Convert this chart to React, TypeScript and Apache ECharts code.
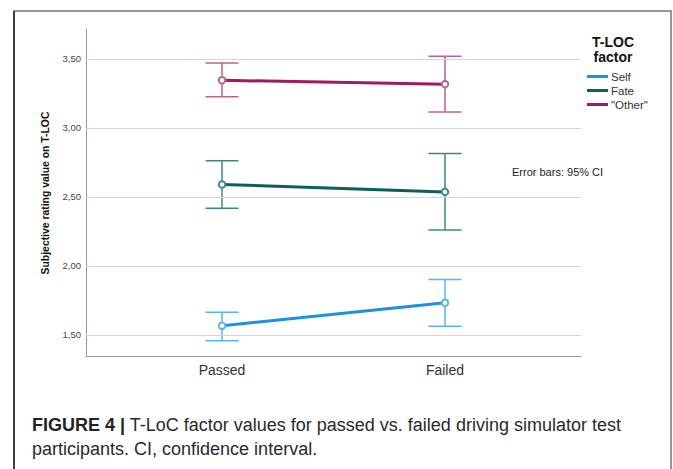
import { useEffect, useRef } from 'react';
import * as echarts from 'echarts';

const categories = ['Passed', 'Failed'];
const seriesNames = ['Self', 'Fate', '"Other"'];
const selfMean = [1.565, 1.732];
const selfLow = [1.457, 1.561];
const selfHigh = [1.664, 1.901];
const fateMean = [2.59, 2.536];
const fateLow = [2.418, 2.259];
const fateHigh = [2.761, 2.814];
const otherMean = [3.345, 3.317];
const otherLow = [3.225, 3.116];
const otherHigh = [3.471, 3.52];
const yTicks = [1.5, 2.0, 2.5, 3.0, 3.5];

const FONT = '"Liberation Sans", Arial, sans-serif';
const lineColors = ['#1f8fe0', '#0d5f58', '#a2195c'];
const barColors = ['#5cb3ee', '#3f8984', '#c1608f'];

function errorSeries(low: number[], high: number[], color: string) {
  return {
    type: 'custom',
    silent: true,
    z: 2,
    encode: { x: 0, y: [1, 2] },
    data: low.map((l, i) => [i, l, high[i]]),
    renderItem: (_params: any, api: any) => {
      const x = api.value(0);
      const lo = api.coord([x, api.value(1)]);
      const hi = api.coord([x, api.value(2)]);
      const w = 16.5;
      const style = { stroke: color, lineWidth: 1.5, fill: 'none' };
      return {
        type: 'group',
        children: [
          { type: 'line', shape: { x1: lo[0], y1: hi[1], x2: lo[0], y2: lo[1] }, style },
          { type: 'line', shape: { x1: lo[0] - w, y1: hi[1], x2: lo[0] + w, y2: hi[1] }, style },
          { type: 'line', shape: { x1: lo[0] - w, y1: lo[1], x2: lo[0] + w, y2: lo[1] }, style },
        ],
      };
    },
  };
}

function meanSeries(name: string, mean: number[], lineColor: string, markColor: string) {
  return {
    type: 'line',
    name,
    z: 3,
    data: mean.map((v, i) => [i, v]),
    symbol: 'emptyCircle',
    symbolSize: 6.5,
    lineStyle: { color: lineColor, width: 3 },
    itemStyle: { color: markColor, borderWidth: 1.5 },
  };
}

export default function App() {
  const ref = useRef<HTMLDivElement>(null);
  useEffect(() => {
    if (!ref.current) return;
    const chart = echarts.init(ref.current, null, { renderer: 'svg' });
    const option: any = {
      animation: false,
      backgroundColor: '#fff',
      textStyle: { fontFamily: FONT },
      grid: { left: 86, right: 92, top: 29, bottom: 113, containLabel: false },
      xAxis: {
        type: 'value',
        min: -0.61,
        max: 1.61,
        splitLine: { show: false },
        axisLine: { show: true, onZero: false, lineStyle: { color: '#999', width: 1 } },
        axisTick: { show: false, customValues: [0, 1] },
        axisLabel: {
          customValues: [0, 1],
          formatter: (v: number) => categories[Math.round(v)],
          fontSize: 14,
          color: '#333',
          fontFamily: FONT,
          margin: 7,
        },
      },
      yAxis: {
        type: 'value',
        min: 1.346,
        max: 3.717,
        splitLine: { show: false },
        axisLine: { show: true, onZero: false, lineStyle: { color: '#999', width: 1 } },
        axisTick: { show: false, customValues: yTicks },
        axisLabel: {
          customValues: yTicks,
          formatter: (v: number) => v.toFixed(2).replace('.', ','),
          fontSize: 9.5,
          color: '#444',
          fontFamily: FONT,
          margin: 5,
        },
      },
      legend: {
        orient: 'vertical',
        left: 582,
        top: 65,
        icon: 'rect',
        itemWidth: 21,
        itemHeight: 3,
        itemGap: 1,
        textStyle: { fontSize: 11.5, color: '#333', fontFamily: FONT, lineHeight: 13, padding: [0, 0, 0, -2] },
        data: seriesNames.map((n, i) => ({ name: n, itemStyle: { color: lineColors[i] } })),
      },
      graphic: [
        {
          type: 'rect',
          shape: { x: 14, y: 11, width: 657, height: 470 },
          style: { stroke: '#777', lineWidth: 1.5, fill: 'none' },
          silent: true,
        },
        {
          type: 'line',
          shape: { x1: 14, y1: 11, x2: 14, y2: 469 },
          style: { stroke: '#222', lineWidth: 1.5 },
          silent: true,
        },
        {
          type: 'text',
          x: 613,
          y: 49,
          style: {
            text: 'T-LOC\nfactor',
            align: 'center',
            verticalAlign: 'middle',
            fontSize: 14,
            fontWeight: 'bold',
            lineHeight: 15,
            fill: '#111',
            fontFamily: FONT,
          },
        },
        {
          type: 'text',
          x: 512,
          y: 172,
          style: {
            text: 'Error bars: 95% CI',
            align: 'left',
            verticalAlign: 'middle',
            fontSize: 11,
            fill: '#222',
            fontFamily: FONT,
          },
        },
        {
          type: 'text',
          x: 45,
          y: 193,
          rotation: Math.PI / 2,
          style: {
            text: 'Subjective rating value on T-LOC',
            align: 'center',
            verticalAlign: 'middle',
            fontSize: 10.4,
            fontWeight: 'bold',
            fill: '#111',
            fontFamily: FONT,
          },
        },
        {
          type: 'text',
          x: 32,
          y: 413,
          style: {
            text: '{b|FIGURE 4 |} T-LoC factor values for passed vs. failed driving simulator test\nparticipants. CI, confidence interval.',
            fontSize: 18,
            lineHeight: 24,
            fill: '#2a2a2a',
            fontFamily: FONT,
            verticalAlign: 'top',
            rich: {
              b: { fontSize: 18, fontWeight: 'bold', lineHeight: 24, fill: '#222', fontFamily: FONT },
            },
          },
        },
      ],
      series: [
        {
          type: 'line',
          name: 'grid',
          data: [],
          z: 0,
          silent: true,
          markLine: {
            silent: true,
            symbol: ['none', 'none'],
            label: { show: false },
            lineStyle: { color: '#d6d6d6', width: 1, type: 'solid' },
            data: yTicks.map((v) => ({ yAxis: v })),
          },
        },
        errorSeries(selfLow, selfHigh, barColors[0]),
        errorSeries(fateLow, fateHigh, barColors[1]),
        errorSeries(otherLow, otherHigh, barColors[2]),
        meanSeries(seriesNames[0], selfMean, lineColors[0], barColors[0]),
        meanSeries(seriesNames[1], fateMean, lineColors[1], barColors[1]),
        meanSeries(seriesNames[2], otherMean, lineColors[2], barColors[2]),
      ],
    };
    chart.setOption(option);
    return () => chart.dispose();
  }, []);
  return <div ref={ref} style={{ position: 'fixed', left: 0, top: 0, width: 673, height: 469 }} />;
}
